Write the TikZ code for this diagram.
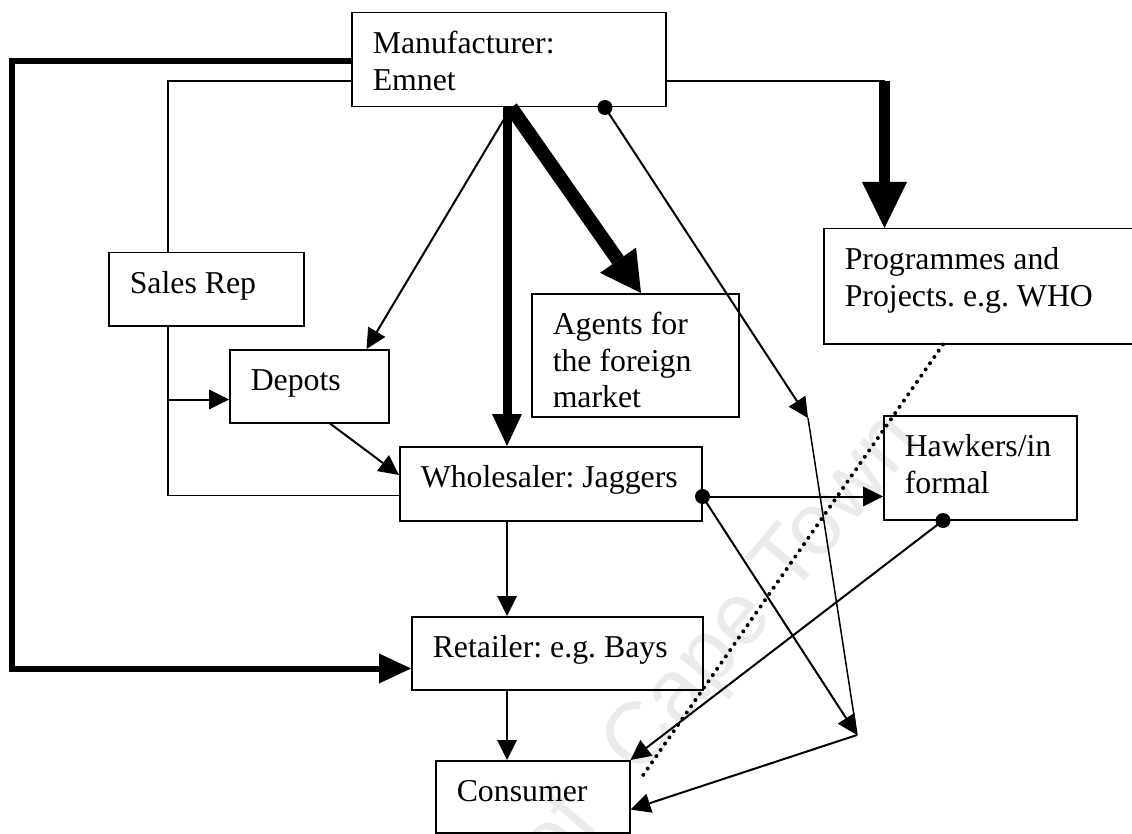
\documentclass[tikz,border=0pt]{standalone}
\usepackage{fontspec}
\setmainfont{Liberation Serif}
\newfontfamily\markfont{Liberation Sans}
\usetikzlibrary{arrows.meta,calc}
\pgfdeclarelayer{bg}
\pgfsetlayers{bg,main}
\frenchspacing
\tikzset{
    every node/.style={rectangle, draw, line width=1.5pt, anchor=north west, inner xsep=21pt, inner ysep=0pt,
        align=flush left, text height=41pt, font=\fontsize{31.8}{36.5}\selectfont}
}
\tikzset{
    link/.style={line width=1.5pt},
    flow/.style={line width=2pt, -{Triangle[length=20pt, width=20pt, line width=0pt]}},
    heavy/.style={line width=6pt, -{Triangle[length=32pt, width=30pt, line width=0pt]}},
    bulk/.style={line width=9pt, -{Triangle[length=32pt, width=30pt, line width=0pt]}},
    export/.style={line width=14pt, -{Triangle[length=40pt, width=44pt, line width=0pt]}},
    donor/.style={line width=11pt, -{Triangle[length=46pt, width=45pt, line width=0pt]}},
    dotline/.style={line width=4pt, line cap=round, dash pattern=on 0pt off 7.6pt}
}

\begin{document}
\begin{tikzpicture}[x=1pt, y=-1pt]
    \useasboundingbox (0, 0) rectangle (1132, 834);

    \node (manu) [text width=272pt, text depth=53pt] at (351, 12) {Manufacturer:\\Emnet};
    \node (sales) [text width=153pt, text depth=32pt] at (108, 252) {Sales Rep};
    \node (depots) [text width=117pt, text depth=32pt] at (229, 349) {Depots};
    \node (agents) [text width=165pt, text depth=82pt] at (531, 293) {Agents for\\the foreign\\market};
    \node (whole) [text width=260pt, text depth=33pt] at (399, 446) {Wholesaler: Jaggers};
    \node (retail) [text width=249pt, text depth=32pt] at (411, 616) {Retailer: e.g. Bays};
    \node (cons) [text width=152pt, text depth=31pt] at (435, 760) {Consumer};
    \node (prog) [text width=300pt, text depth=74pt] at (823, 228) {Programmes and\\Projects. e.g. WHO};
    \node (hawk) [text width=151pt, text depth=63pt] at (883, 415) {Hawkers/in\\formal};

    \begin{pgfonlayer}{bg}
        \node (wmark) [draw=none, anchor=center, rotate=50, inner sep=0pt, text height=, text=black!8,
            font=\markfont\fontsize{88}{88}\selectfont] at (721, 646) {of\hspace{35pt} Cape Town};
    \end{pgfonlayer}

    \coordinate (trunk) at (507, 0);
    \coordinate (fan) at ($(manu.south west)+(160,0)$);
    \coordinate (kink) at (808, 418);
    \coordinate (join) at (857, 735);
    \coordinate (mdot) at ($(manu.south west)+(254,0)$);
    \coordinate (wdot) at ($(whole.south east)+(0,-25)$);
    \coordinate (hdot) at ($(hawk.south west)+(60,0)$);

    % out of the manufacturer
    \draw[heavy] ($(manu.north west)+(0,49)$) -- ++(-339,0) |- ($(retail.south west)+(0,-22)$);
    \draw[link] ($(manu.north west)+(0,69)$) -| ($(sales.north west)+(60,0)$);
    \draw[bulk] (manu.south -| trunk) -- (whole.north -| trunk);
    \draw[export] (fan) -- ($(agents.north west)+(110,0)$);
    \draw[flow] (fan) -- ($(depots.north east)+(-23,0)$);
    \draw[link] ($(manu.north east)+(0,69)$) -- ++(218,0) coordinate (pturn);
    \draw[donor] (pturn) -- (pturn |- prog.north);
    \draw[flow] (mdot) -- (kink);
    \draw[link] (kink) -- (join);

    % sales rep and depots
    \draw[link] ($(sales.south west)+(60,0)$) |- ($(whole.south west)+(0,-26)$);
    \draw[flow] ($(depots.south west)+(-61,-24)$) -- ($(depots.south west)+(0,-24)$);
    \draw[flow] ($(depots.south west)+(101,0)$) -- ($(whole.north west)+(0,29)$);

    % down to the consumer
    \draw[flow] (whole.south -| trunk) -- (retail.north -| trunk);
    \draw[flow] (retail.south -| trunk) -- (cons.north -| trunk);
    \draw[flow] (wdot) -- (wdot -| hawk.west);
    \draw[flow] (wdot) -- (join);
    \draw[flow] (join) -- ($(cons.south east)+(0,-24)$);
    \draw[flow] (hdot) -- (cons.north east);
    \draw[dotline] ($(prog.south west)+(120,0)$) -- ($(cons.north east)+(12,16)$);

    \foreach \d in {mdot, wdot, hdot}
        \fill (\d) circle[radius=7.5pt];
\end{tikzpicture}
\end{document}
